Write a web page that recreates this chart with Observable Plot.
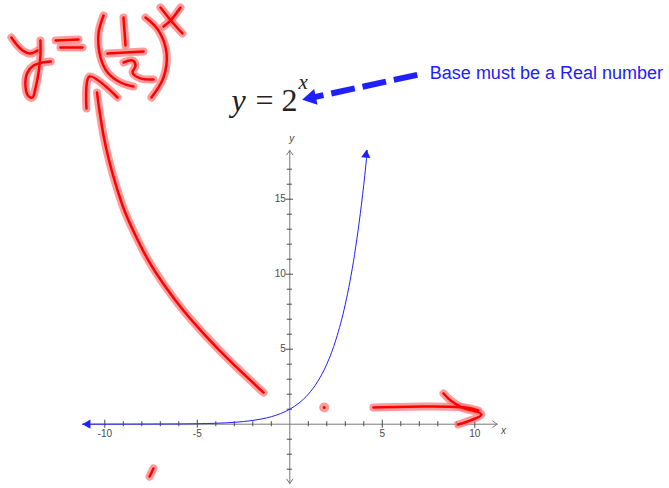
<!DOCTYPE html>
<html>
<head>
<meta charset="utf-8">
<script src="https://cdn.jsdelivr.net/npm/d3@7"></script>
<script src="https://cdn.jsdelivr.net/npm/@observablehq/plot@0.6"></script>
<style>
  html, body { margin: 0; padding: 0; background: #fff; }
  #chart { width: 669px; height: 488px; }
</style>
</head>
<body>
<div id="chart"></div>
<script>
// Graph of y = 2^x: sampled values of the curve
const curveX = [-11.2, -6, -5, -4.5, -4, -3.5, -3, -2.5, -2, -1.5, -1, -0.5, 0, 0.5, 1, 1.5, 2, 2.5, 3, 3.5, 4, 4.1, 4.19];
const curveY = [0.0004, 0.016, 0.031, 0.044, 0.0625, 0.088, 0.125, 0.177, 0.25, 0.354, 0.5, 0.707, 1, 1.414, 2, 2.83, 4, 5.66, 8, 11.31, 16, 17.15, 18.25];

// Axis ticks and labels
const xTicks = [-10, -9, -8, -7, -6, -5, -4, -3, -2, -1, 1, 2, 3, 4, 5, 6, 7, 8, 9, 10];
const yTicks = [-3, -2, -1, 1, 2, 3, 4, 5, 6, 7, 8, 9, 10, 11, 12, 13, 14, 15, 16, 17];
const xTickLabels = [-10, -5, 5, 10];
const yTickLabels = [5, 10, 15];

// Hand-drawn ink strokes, in the graph's own x/y units
const inkYArm = [[-15.05, 25.78], [-14.77, 25.31], [-14.44, 24.91], [-14.02, 24.71], [-13.64, 24.91]];
const inkYStem = [[-13.48, 25.58], [-13.48, 24.58], [-13.58, 23.45], [-13.75, 22.38], [-13.91, 21.78], [-14.12, 21.85], [-14.29, 22.58], [-14.18, 23.45], [-13.85, 23.91], [-13.37, 24.11], [-12.92, 24.18]];
const inkEqTop = [[-12.66, 25.58], [-11.42, 25.65]];
const inkEqBottom = [[-12.40, 25.11], [-11.21, 25.11]];
const inkParenOpen = [[-10.07, 27.25], [-10.34, 26.05], [-10.23, 24.45], [-9.85, 23.45], [-9.15, 22.78], [-8.45, 22.51]];
const inkOne = [[-8.99, 27.11], [-8.88, 25.25]];
const inkFractionBar = [[-9.85, 24.71], [-7.91, 24.85]];
const inkTwo = [[-8.99, 24.11], [-8.50, 24.25], [-8.34, 23.91], [-8.50, 23.45], [-8.07, 23.05], [-7.37, 22.98]];
const inkParenClose = [[-7.80, 27.11], [-7.10, 26.25], [-6.66, 24.71], [-6.83, 23.11], [-7.48, 21.78]];
const inkExpA = [[-6.99, 27.78], [-6.29, 26.71], [-5.80, 26.05]];
const inkExpB = [[-5.91, 27.78], [-6.45, 26.91], [-6.83, 26.51]];
const inkCurvedShaft = [[-1.42, 2.11], [-3.26, 4.25], [-4.56, 5.91], [-5.75, 7.58], [-6.77, 9.25], [-7.64, 10.91], [-8.34, 12.58], [-8.94, 14.25], [-9.39, 15.91], [-9.77, 17.58], [-10.07, 19.25], [-10.29, 20.91], [-10.42, 22.11]];
const inkCurvedHead = [[-10.99, 21.05], [-10.83, 23.18], [-9.31, 21.78]];
const inkRightShaft = [[4.52, 1.11], [7.34, 1.18], [9.48, 1.11], [10.18, 0.91]];
const inkRightHead = [[8.31, 2.05], [8.69, 1.58], [9.32, 1.11], [10.36, 0.65], [9.10, -0.02]];
const inkTick = [[-7.37, -2.95], [-7.58, -3.49]];
const inkDots = [[1.86, 1.11]];

const inkStrokes = [inkYArm, inkYStem, inkEqTop, inkEqBottom, inkParenOpen, inkOne, inkFractionBar,
  inkTwo, inkParenClose, inkExpA, inkExpB, inkCurvedShaft, inkCurvedHead, inkRightShaft, inkRightHead, inkTick]
  .flatMap((s, i) => s.map(([x, y]) => ({x, y, stroke: i})));

const curve = curveX.map((x, i) => ({x, y: curveY[i]}));

// Annotation placements (graph units)
const calloutText = "Base must be a Real number";
const calloutTextAt = {x: 7.57, y: 23.03};
const calloutFrom = {x: 6.89, y: 23.29};
const calloutTo = {x: 1.28, y: 21.79};
const calloutHead = {x: 1.16, y: 21.76};
const titleAt = {x: -3.15, y: 20.91};

const blue = "#2020ff";
const inkRed = "#ff0000";
const inkGlow = "#ff7a7a";
const axisGray = "#777";
const tickGray = "#4a4a4a";

const chart = Plot.plot({
  width: 669,
  height: 488,
  margin: 0,
  x: {domain: [-15.638, 20.524], axis: null},
  y: {domain: [-4.287, 28.247], axis: null},
  style: {background: "#fff"},
  marks: [
    // axes with arrowheads
    Plot.arrow([{x1: -11.2, x2: 11.21}], {x1: "x1", x2: "x2", y1: () => 0, y2: () => 0, stroke: axisGray, strokeWidth: 1, headLength: 8, headAngle: 70}),
    Plot.arrow([{y2: 18.25}], {x1: () => 0, x2: () => 0, y1: () => 0, y2: "y2", stroke: axisGray, strokeWidth: 1, headLength: 8, headAngle: 70}),
    Plot.arrow([{y2: -3.95}], {x1: () => 0, x2: () => 0, y1: () => 0, y2: "y2", stroke: axisGray, strokeWidth: 1, headLength: 8, headAngle: 70}),
    Plot.ruleX(xTicks, {x: d => d, y1: d => xTickLabels.includes(d) ? -0.27 : -0.17, y2: d => xTickLabels.includes(d) ? 0.27 : 0.17, stroke: tickGray}),
    Plot.ruleY(yTicks, {y: d => d, x1: d => yTickLabels.includes(d) ? -0.2 : -0.14, x2: d => yTickLabels.includes(d) ? 0.2 : 0.14, stroke: tickGray}),
    Plot.text(xTickLabels, {x: d => d, y: () => 0, text: d => String(d), dy: 6, lineAnchor: "top", fontSize: 10, fill: tickGray, fontFamily: "Liberation Sans, Arial, sans-serif"}),
    Plot.text(yTickLabels, {x: () => 0, y: d => d, text: d => String(d), dx: -4, textAnchor: "end", lineAnchor: "middle", fontSize: 10, fill: tickGray, fontFamily: "Liberation Sans, Arial, sans-serif"}),
    Plot.text(["x"], {x: () => 11.55, y: () => 0, dy: 7, text: d => d, fontStyle: "italic", fontSize: 10, fill: tickGray, lineAnchor: "middle", fontFamily: "Liberation Sans, Arial, sans-serif"}),
    Plot.text(["y"], {x: () => 0.1, y: () => 19.05, text: d => d, fontStyle: "italic", fontSize: 10, fill: tickGray, lineAnchor: "middle", fontFamily: "Liberation Sans, Arial, sans-serif"}),

    // y = 2^x
    Plot.line(curve, {x: "x", y: "y", stroke: blue, strokeWidth: 1, curve: "monotone-x"}),
    Plot.dot([curve[0]], {x: () => -10.92, y: "y", symbol: "triangle", r: 3.4, fill: blue, stroke: "none", rotate: -90}),
    Plot.dot([curve[curve.length - 1]], {x: () => 4.12, y: () => 17.95, symbol: "triangle", r: 3.4, fill: blue, stroke: "none", rotate: 5}),

    // title
    Plot.text(["y"], {x: () => titleAt.x, y: () => titleAt.y, text: d => d, textAnchor: "start", lineAnchor: "bottom", fontSize: 32, fontStyle: "italic", fill: "#222", fontFamily: "Liberation Serif, Times New Roman, serif"}),
    Plot.text(["= 2"], {x: () => titleAt.x, y: () => titleAt.y, dx: 24, text: d => d, textAnchor: "start", lineAnchor: "bottom", fontSize: 32, fill: "#222", fontFamily: "Liberation Serif, Times New Roman, serif"}),
    Plot.text(["x"], {x: () => titleAt.x, y: () => titleAt.y, dx: 67, dy: -22, text: d => d, textAnchor: "start", lineAnchor: "bottom", fontSize: 21, fontStyle: "italic", fill: "#222", fontFamily: "Liberation Serif, Times New Roman, serif"}),

    // callout
    Plot.text([calloutText], {x: () => calloutTextAt.x, y: () => calloutTextAt.y, text: d => d, textAnchor: "start", lineAnchor: "bottom", fontSize: 18, fill: blue, fontFamily: "Liberation Sans, Arial, sans-serif"}),
    Plot.link([{}], {x1: () => calloutFrom.x, y1: () => calloutFrom.y, x2: () => calloutTo.x, y2: () => calloutTo.y, stroke: blue, strokeWidth: 6, strokeDasharray: "24,8"}),
    Plot.dot([calloutHead], {x: "x", y: "y", symbol: "triangle", r: 6, fill: blue, stroke: "none", rotate: -102}),

    // hand-drawn ink
    Plot.line(inkStrokes, {x: "x", y: "y", z: "stroke", stroke: inkGlow, strokeOpacity: 0.75, strokeWidth: 8, strokeLinecap: "round", strokeLinejoin: "round", curve: "catmull-rom"}),
    Plot.line(inkStrokes, {x: "x", y: "y", z: "stroke", stroke: inkRed, strokeWidth: 2.5, strokeLinecap: "round", strokeLinejoin: "round", curve: "catmull-rom"}),
    Plot.dot(inkDots, {x: d => d[0], y: d => d[1], r: 5, fill: inkGlow, fillOpacity: 0.75, stroke: "none"}),
    Plot.dot(inkDots, {x: d => d[0], y: d => d[1], r: 1.5, fill: inkRed, stroke: "none"})
  ]
});

document.getElementById("chart").appendChild(chart);
</script>
</body>
</html>
